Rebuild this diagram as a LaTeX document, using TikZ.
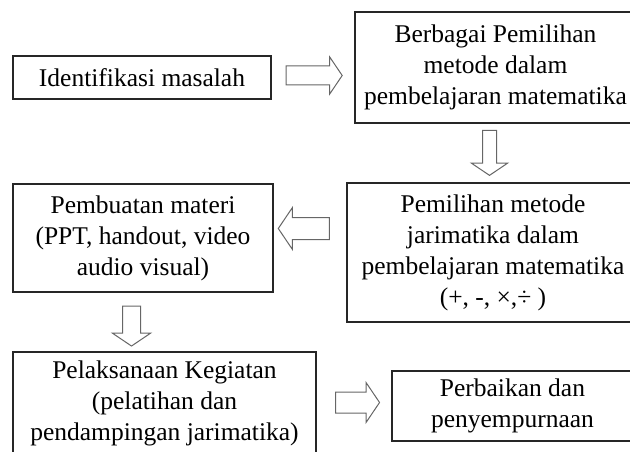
\documentclass[tikz,border=0pt]{standalone}
\usepackage{fontspec}
\setmainfont{Liberation Serif}
\usetikzlibrary{shapes.arrows}
\begin{document}
\begin{tikzpicture}[x=1pt, y=-1pt,
  box/.style={draw=black!85, line width=1.2pt, rectangle, align=center, inner sep=0pt,
    font=\fontsize{25.5}{31}\selectfont},
  blockarr/.style={draw=black!60, line width=1pt, single arrow, inner xsep=0pt,
    single arrow tip angle=112}]
\useasboundingbox (0,0) rectangle (630,452);
\clip (0,0) rectangle (630,452);

\node[box, minimum width=258pt, minimum height=43pt] (ident) at (142,77.5) {Identifikasi masalah};
\node[box, minimum width=281pt, minimum height=111pt] (pilih) at (495.5,67.5) {Berbagai Pemilihan\\metode dalam\\pembelajaran matematika};

\node[box, minimum width=260pt, minimum height=108pt] (buat) at (143,238) {Pembuatan materi\\(PPT, handout, video\\audio visual)};
\node[box, minimum width=292pt, minimum height=139pt] (jari) at (493,252.5) {Pemilihan metode\\jarimatika dalam\\pembelajaran matematika\\(+, -, ×,÷ )};

\node[box, minimum width=303pt, minimum height=103pt] (laks) at (164.5,403.5) {Pelaksanaan Kegiatan\\(pelatihan dan\\pendampingan jarimatika)};
\node[box, minimum width=241pt, minimum height=70pt] (baik) at (512.5,406) {Perbaikan dan\\penyempurnaan};

\node[blockarr, minimum height=56pt, inner ysep=9pt, single arrow head extend=9pt] (toPilih) at (311,75.5) {};
\node[blockarr, minimum height=45pt, inner ysep=6.5pt, single arrow head extend=11pt, rotate=-90] (toJari) at (489.5,150.5) {};
\node[blockarr, minimum height=51pt, inner ysep=10.5pt, single arrow head extend=10pt, rotate=180] (toBuat) at (307.5,228.5) {};
\node[blockarr, minimum height=40pt, inner ysep=8.5pt, single arrow head extend=10pt, rotate=-90] (toLaks) at (131.5,323) {};
\node[blockarr, minimum height=44pt, inner ysep=10pt, single arrow head extend=9.5pt] (toBaik) at (354,402.5) {};
\end{tikzpicture}
\end{document}
